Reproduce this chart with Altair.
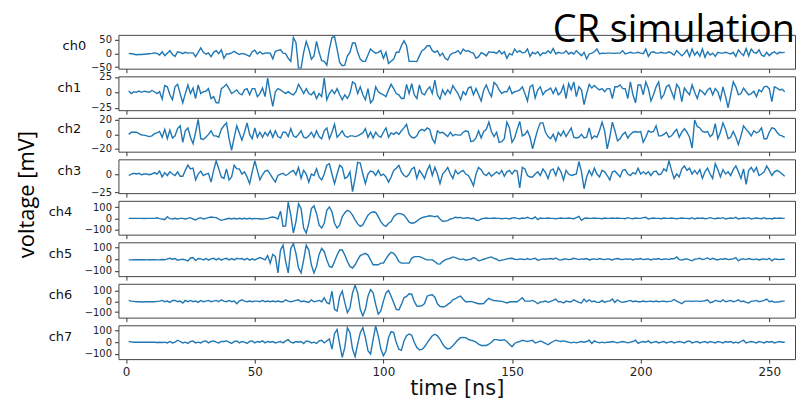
import altair as alt
import pandas as pd

# ---- data (mV, one sample per ns, t = 1..256) ----
ch0 = [0,-1,-3,-5,-4,-4,-3,-2,-1,0,
 2,0,-6,6,-8,1,10,-4,-11,6,
 4,-1,4,1,2,2,-12,4,20,4,
 -3,2,-12,4,10,-1,13,-18,-2,-2,
 2,8,1,-4,0,-2,-6,-11,6,12,
 -2,6,-2,1,2,1,-20,8,11,13,
 1,-1,-18,-29,58,40,-54,-54,4,44,
 16,-21,-9,44,4,-27,-29,-43,16,58,
 62,16,-33,-45,-43,-9,4,38,38,4,
 -21,-29,-29,-6,16,7,1,4,10,-18,
 4,-37,-29,-21,4,4,28,46,28,-29,
 -29,-29,-30,-9,10,16,28,28,10,4,
 10,-9,1,-18,-24,-5,1,4,10,-2,
 16,8,10,4,1,-18,-12,3,-2,-9,
 6,4,4,0,10,-2,6,-18,0,-6,
 16,4,10,2,4,16,-11,4,-2,6,
 -8,2,0,10,1,18,-2,4,1,1,
 10,-2,4,-2,10,1,-8,4,-20,-2,
 1,6,16,-2,1,0,1,1,1,0,
 1,1,10,-2,1,4,1,2,4,1,
 -1,16,-11,4,6,1,1,4,1,1,
 6,1,-6,10,1,-9,0,13,-11,16,
 -6,6,-11,16,-14,6,-6,1,-11,4,
 1,1,4,1,-2,4,-11,13,1,-8,
 18,-9,16,4,1,13,-6,-11,4,-8,
 1,6,-2,4,3,4]

ch1 = [2,-2,1,0,2,0,2,1,0,3,
 1,-2,1,-11,11,9,-4,-12,9,13,
 -2,-17,-2,12,-2,7,-10,12,-2,1,
 2,6,-10,-7,-17,-17,6,9,13,6,
 -2,1,4,-2,-4,4,6,-4,6,6,
 -7,-2,7,-7,23,-2,-23,1,6,4,
 1,-2,1,-2,-4,1,13,6,-2,6,
 -2,-4,1,-10,-2,-7,23,-12,-2,4,
 -2,6,-4,-12,-4,-10,-2,17,14,-2,
 9,-4,-12,6,-17,-12,9,1,-2,-4,
 -7,4,13,6,-2,-4,-10,-10,13,-2,
 14,-4,-10,12,-2,-4,4,9,-2,20,
 -4,-11,4,-4,4,-2,11,4,
 -2,-12,1,-4,7,9,-4,6,-4,-14,
 4,12,1,-7,16,12,4,-2,1,1,
 9,-2,1,2,4,9,-2,-14,9,12,
 -9,4,9,-4,2,4,7,-2,7,-4,
 0,11,-10,14,4,17,-7,9,4,-20,
 -2,13,7,11,7,4,6,1,6,6,
 -10,9,9,12,6,6,-10,17,-4,-17,
 12,12,-4,17,6,-14,-4,9,17,-10,
 -4,9,12,1,-10,13,7,-15,7,1,
 -4,12,0,-10,4,1,-4,4,7,-4,
 6,1,-12,9,-7,-25,-4,17,9,-4,
 -2,7,1,-4,-2,2,-7,4,1,9,
 10,6,-15,9,7,4,5,1]

ch2 = [0,3,3,3,1,-1,-1,-2,-3,-2,
 1,2,4,-4,7,-6,6,-5,-2,8,
 12,-11,5,9,-4,-13,3,21,-6,-7,
 -4,0,5,-2,-2,-4,7,12,16,-6,
 -22,-4,12,2,-8,3,16,0,-6,9,
 -4,3,-4,3,-2,5,-4,5,-3,-5,
 3,3,-3,8,-2,-4,0,5,-4,-5,
 -2,3,-4,5,-3,-6,5,9,-6,3,
 14,-4,0,5,-2,-4,-2,-2,-3,-2,
 0,2,8,-4,3,-5,3,-2,-4,3,
 9,-4,2,0,3,0,5,9,14,0,
 -4,-5,-2,5,7,5,9,7,-6,-12,
 5,2,3,0,-3,3,-2,0,
 -1,-1,3,5,4,-10,-9,-5,5,-5,
 4,7,17,4,-3,3,-11,-10,-6,17,
 9,-11,-5,7,18,-2,0,5,-4,-20,
 -6,7,16,16,3,-3,-6,0,-9,3,
 -2,5,-3,3,9,-4,-5,-4,0,-5,
 -4,9,-6,-2,-4,5,17,5,-20,-4,
 17,5,-9,-6,0,3,-5,0,3,4,
 3,4,-11,-4,5,3,4,12,-2,-2,
 0,3,-4,-2,3,7,-4,3,8,3,
 -4,-19,20,11,9,4,3,4,-3,0,
 15,-6,3,16,7,-6,-4,4,-4,-14,
 -2,12,7,3,-2,5,2,4,9,-6,
 -6,3,9,8,3,-1,-2,-4]

ch3 = [-2,0,1,0,1,-1,0,0,-1,0,
 2,0,4,-4,2,-2,3,0,-2,3,
 -3,-3,5,12,7,8,-8,0,4,-2,
 0,1,-11,5,18,7,-4,-6,7,-8,
 -4,12,7,7,0,3,-4,-13,3,18,
 5,-8,-1,4,5,0,-6,-11,-2,0,
 1,-2,0,3,5,-1,9,-6,5,0,
 -11,0,-2,7,-4,-8,0,12,14,0,
 -13,0,12,9,-6,-4,3,-24,-6,16,
 15,0,-13,0,4,3,-2,5,-2,0,
 -4,-11,-4,5,8,12,3,-2,-4,0,
 7,9,-6,5,0,-6,5,12,-2,9,
 0,-13,0,4,9,0,-6,5,
 0,3,5,0,-2,-8,-16,0,9,6,
 0,-2,2,-3,0,3,0,5,-3,3,
 5,0,5,4,-19,9,7,-2,-4,-4,
 0,3,-2,7,2,-6,5,7,-2,9,
 3,-8,5,0,-2,-1,0,17,3,-20,
 -4,5,-2,8,0,-4,5,3,-2,-8,
 3,4,0,-4,5,6,0,-2,2,0,
 8,0,3,0,3,-2,3,4,-1,0,
 7,4,18,5,-6,0,-4,7,11,5,
 8,0,5,0,6,-6,3,8,0,-6,
 14,6,-4,6,0,3,-2,6,11,3,
 -6,7,-14,5,9,3,9,-2,0,3,
 11,5,-2,3,5,3,0,-3]

ch4 = [0,0,0,0,0,0,-1,0,0,0,
 0,5,-3,-6,-12,15,-3,-6,0,-6,
 0,0,-6,0,6,-6,-15,0,6,-6,
 0,6,12,9,6,-6,-18,-12,-6,0,
 -6,0,-6,0,-6,0,-6,0,-6,0,
 -3,-6,-6,-3,0,9,12,6,-6,65,
 -73,-68,147,29,-132,-29,132,88,-88,-132,
 -44,88,112,44,-59,-88,-44,73,103,59,
 -44,-88,-59,15,50,73,60,29,-15,-50,
 -73,-59,-15,29,50,59,53,15,-29,-60,
 -73,-44,-29,15,35,44,40,29,0,-35,
 -44,-40,-25,-6,6,12,18,23,20,15,
 20,-6,-26,-24,-20,-6,0,10,
 6,9,0,3,6,-3,0,-15,-20,-6,
 0,3,0,0,3,0,0,-3,0,0,
 -6,3,6,0,-3,3,0,9,0,-3,
 12,-12,3,0,0,3,0,0,-3,0,
 3,0,0,3,0,-3,6,18,-18,0,
 3,0,0,3,0,0,-3,3,0,0,
 3,0,3,0,0,-3,6,0,-3,3,
 0,0,6,9,-6,0,3,0,0,-3,
 3,0,0,3,0,-3,0,3,0,0,
 -3,6,-6,3,0,3,-3,0,6,0,
 -3,3,0,6,-6,0,3,0,9,-6,
 0,3,0,6,-6,0,3,0,-3,6,
 -3,0,-6,3,0,3,0,0]

ch5 = [-6,-6,-5,-5,-5,-5,-5,-6,-5,-5,
 -5,-6,-5,-3,-5,3,8,0,6,-8,
 -3,0,-6,-14,11,14,-11,6,3,-6,
 6,-8,3,8,-6,8,-8,3,8,-6,
 6,-6,8,3,6,-6,8,-8,3,-6,
 6,14,6,-6,31,-34,42,23,-118,79,
 121,-20,-118,93,135,51,-76,-118,-6,121,
 79,-48,-118,-62,42,93,65,-6,-62,-70,
 -20,36,79,79,36,-20,-62,-76,-48,-6,
 31,42,51,36,-6,-48,-48,-48,-34,-34,
 3,36,59,51,23,-20,-34,-34,-34,-34,
 8,22,22,22,14,3,-6,-6,-6,-20,
 -40,-42,-20,-6,3,8,20,14,
 6,-3,3,-8,-3,0,14,6,-14,-8,
 0,8,14,20,8,0,-14,-8,-3,3,
 6,8,0,-3,3,0,-3,6,-3,3,
 8,-8,-3,3,0,3,6,0,11,-3,
 -8,0,3,-3,0,8,3,-3,3,0,
 6,-6,0,3,-3,6,0,-3,3,0,
 -6,3,6,0,-3,3,0,3,-6,3,
 0,6,-3,0,3,-6,3,0,6,-3,
 0,3,-3,6,3,20,-3,-8,0,3,
 -6,-14,0,3,8,-3,3,11,-3,8,
 0,-6,3,0,6,-3,0,3,14,-14,
 0,3,-3,6,0,-3,3,-6,0,3,
 -3,8,-14,3,0,-3,0,0]

ch6 = [9,3,0,-3,-3,-6,-3,-3,-3,-3,
 -3,0,3,9,-3,3,-9,9,9,-3,
 3,-15,9,-3,9,-3,3,-9,9,-3,
 3,9,-3,3,9,-3,15,3,-3,9,
 -3,3,-22,3,15,3,-3,3,-3,3,
 3,-3,9,-3,3,-3,3,-3,3,-3,
 -3,15,3,-3,3,9,15,-3,3,-3,
 -9,15,-3,3,9,-3,34,-12,-22,96,
 -74,-90,46,96,-12,-105,-60,80,151,80,
 -74,-136,-74,49,111,80,-28,-120,-90,3,
 80,102,49,-12,-74,-80,-28,34,46,71,
 68,0,-43,-46,-40,-20,49,59,62,40,
 -22,-46,-52,-46,-28,-12,15,25,
 40,49,20,-3,-3,0,-6,-15,-22,-22,
 -20,9,28,15,9,6,3,0,-6,-15,
 -6,-3,-3,-3,15,34,3,3,3,9,
 -3,-22,-6,-3,3,-9,0,9,22,-3,
 -3,-15,3,-3,-3,15,3,-9,-15,22,
 -3,15,-3,3,-9,-9,9,-9,3,3,
 22,-9,15,-3,-9,-3,3,9,-3,3,
 -3,-3,3,-3,0,3,-3,3,-3,0,
 3,-3,0,3,18,3,-9,-22,0,3,
 3,0,3,3,0,3,6,15,-12,-6,
 9,3,-3,15,-3,3,9,-3,3,15,
 -3,3,-9,-15,3,3,9,-3,3,9,
 22,-3,3,-9,-6,-3,3,3]

ch7 = [6,3,0,0,0,0,0,0,0,0,
 0,-3,0,-3,0,-6,6,-6,0,17,
 6,-6,0,-11,6,11,-6,0,-6,6,
 11,-6,6,11,0,-6,6,6,11,0,
 -11,6,11,-6,6,0,-11,6,11,-6,
 6,0,11,-6,6,0,6,-6,0,6,
 -6,11,22,0,-6,6,0,6,-11,11,
 6,-6,0,-11,11,17,-6,10,28,-59,
 73,110,-17,-130,-45,124,82,-59,-124,-17,
 82,124,40,-73,-101,25,138,54,-59,-116,
 -73,40,90,82,-3,-60,-70,10,55,70,
 60,0,-45,-65,-62,-40,-5,25,55,68,
 55,25,-15,-45,-58,-50,-30,-5,
 20,39,40,39,25,17,11,0,-17,-28,
 -28,-28,-17,0,22,22,17,17,22,6,
 -17,-39,-11,0,6,17,11,6,11,17,
 -6,0,11,0,-11,-22,-6,6,17,11,
 6,11,6,0,-6,0,-6,0,6,0,
 6,17,-11,11,0,-6,0,-6,0,0,
 6,0,-6,0,6,0,-6,0,6,17,
 -11,0,6,0,11,-6,0,6,-6,0,
 6,-6,0,6,-6,0,6,0,-6,6,
 11,-6,0,6,-6,0,6,-6,6,0,
 -6,6,0,-6,6,0,6,-6,0,-6,
 6,17,-6,0,6,0,-6,6,0,-6,
 6,0,6,-6,0,6,0,0]

channels = ["ch0", "ch1", "ch2", "ch3", "ch4", "ch5", "ch6", "ch7"]
series = [ch0, ch1, ch2, ch3, ch4, ch5, ch6, ch7]
y_domains = [[-56, 68], [-29, 26], [-24, 23], [-26, 20],
             [-147, 158], [-146, 146], [-152, 165], [-145, 145]]
y_ticks = [[-50, 0, 50], [-25, 0, 25], [-20, 0, 20], [-25, 0],
           [-100, 0, 100], [-100, 0, 100], [-100, 0, 100], [-100, 0, 100]]
x_ticks = [0, 50, 100, 150, 200, 250]
x_domain = [-3, 260]
title_text = ["CR simulation"]
ylabel_text = ["voltage [mV]"]
xlabel_text = "time [ns]"

# ---- layout / style ----
W, H = 680, 34
label_x = [-33, -38, -38, -38, -47, -47, -47, -47]
minus_expr = "datum.value < 0 ? '\u2212' + abs(datum.value) : datum.label"

panels = []
for i, (name, vals) in enumerate(zip(channels, series)):
    df = pd.DataFrame({"t": list(range(1, len(vals) + 1)), "v": vals})
    last = i == len(channels) - 1
    if last:
        xaxis = alt.Axis(values=x_ticks, labels=True, ticks=True, tickSize=4,
                         domain=False, grid=False, labelFontSize=12,
                         labelPadding=3, title=xlabel_text, titleFontSize=21,
                         titlePadding=1)
    else:
        xaxis = alt.Axis(values=x_ticks, labels=False, ticks=True, tickSize=4,
                         domain=False, grid=False, title=None)
    yaxis = alt.Axis(values=y_ticks[i], labelExpr=minus_expr, tickSize=4,
                     labelPadding=3, domain=False, grid=False, labelFontSize=10,
                     labelOverlap=False,
                     title=name, titleAngle=0, titleAlign="right",
                     titleBaseline="middle", titleX=label_x[i], titleY=11,
                     titleFontSize=13)
    line = alt.Chart(df).mark_line(color="#1f77b4", strokeWidth=1.4, clip=True).encode(
        x=alt.X("t:Q", scale=alt.Scale(domain=x_domain, nice=False, zero=False), axis=xaxis),
        y=alt.Y("v:Q", scale=alt.Scale(domain=y_domains[i], nice=False, zero=False), axis=yaxis),
    )
    layers = [line]
    if i == 0:
        layers.append(
            alt.Chart(pd.DataFrame({"label": title_text})).mark_text(
                align="right", baseline="alphabetic", font="Open Sans",
                fontSize=38, color="black"
            ).encode(x=alt.value(W), y=alt.value(6.7), text="label:N")
        )
    if i == 3:
        layers.append(
            alt.Chart(pd.DataFrame({"label": ylabel_text})).mark_text(
                align="center", baseline="middle", angle=270, font="Open Sans",
                fontSize=22, color="black"
            ).encode(x=alt.value(-92), y=alt.value(35.5), text="label:N")
        )
    panels.append(alt.layer(*layers).properties(width=W, height=H))

chart = alt.vconcat(*panels, spacing=7.7, bounds="flush").properties(
    padding={"left": 7, "top": 2, "right": 0, "bottom": 0}
).configure_view(
    stroke="#444", strokeWidth=1
).configure_axis(
    labelFont="DejaVu Sans", titleFont="DejaVu Sans", labelColor="#222",
    tickColor="#333", titleFontWeight="normal", titleColor="#111"
)

chart.save("out.html", embed_options={"renderer": "svg", "actions": False})
